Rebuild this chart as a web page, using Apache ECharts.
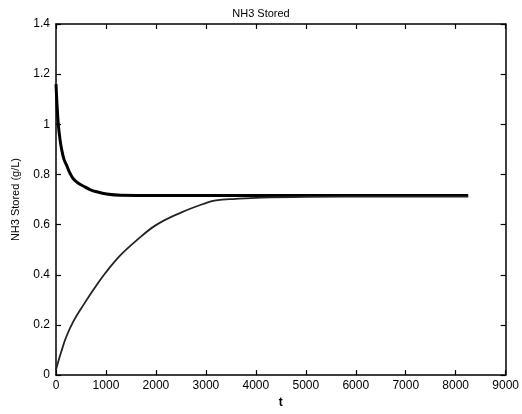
<!DOCTYPE html>
<html>
<head>
<meta charset="utf-8">
<script src="https://cdn.jsdelivr.net/npm/echarts@6/dist/echarts.min.js"></script>
<style>
  html, body { margin: 0; padding: 0; background: #fff; }
  #chart { width: 522px; height: 414px; }
</style>
</head>
<body>
<div id="chart"></div>
<script>
// 数据：估计值
const tDown = [0, 20, 46, 80, 113, 160, 213, 280, 346, 450, 546, 680, 812, 1012, 1300, 2000, 3000, 4000, 5000, 6000, 7000, 8250];
const yDown = [1.16, 1.08, 1.0, 0.94, 0.90, 0.86, 0.836, 0.805, 0.783, 0.765, 0.754, 0.74, 0.731, 0.722, 0.717, 0.716, 0.716, 0.716, 0.716, 0.716, 0.716, 0.716];
const tUp = [0, 40, 100, 200, 350, 550, 800, 1000, 1300, 1600, 2000, 2500, 3000, 3200, 3600, 4100, 5000, 6500, 8250];
const yUp = [0.02, 0.05, 0.09, 0.15, 0.215, 0.28, 0.355, 0.41, 0.48, 0.535, 0.598, 0.648, 0.686, 0.697, 0.703, 0.708, 0.711, 0.712, 0.712];
const xTicks = [0, 9000, 1000];
const yTicks = [0, 1.4, 0.2];

const chart = echarts.init(document.getElementById('chart'));
const font = 'Liberation Sans, Arial, sans-serif';
const axisBase = {
  type: 'value',
  axisLine: { show: true, onZero: false, lineStyle: { color: '#000', width: 1.5 } },
  axisTick: { show: true, inside: true, length: 5, lineStyle: { color: '#000', width: 1.2 } },
  splitLine: { show: false },
};
const option = {
  animation: false,
  backgroundColor: '#fff',
  title: {
    text: 'NH3 Stored',
    left: 'center',
    top: 3,
    textStyle: { fontFamily: font, fontSize: 11, fontWeight: 'normal', color: '#000' },
  },
  grid: { left: 56, right: 15, top: 24, bottom: 36 },
  xAxis: [
    Object.assign({}, axisBase, {
      min: xTicks[0], max: xTicks[1], interval: xTicks[2],
      position: 'bottom',
      name: 't', nameLocation: 'middle', nameGap: 21,
      nameTextStyle: { fontFamily: font, fontSize: 12, fontWeight: 'bold', color: '#000' },
      axisLabel: { color: '#000', fontFamily: font, fontSize: 12, margin: 5, formatter: v => String(v) },
    }),
    Object.assign({}, axisBase, {
      min: xTicks[0], max: xTicks[1], interval: xTicks[2],
      position: 'top',
      axisLabel: { show: false },
    }),
  ],
  yAxis: [
    Object.assign({}, axisBase, {
      min: yTicks[0], max: yTicks[1], interval: yTicks[2],
      position: 'left',
      name: 'NH3 Stored (g/L)', nameLocation: 'middle', nameGap: 35,
      nameTextStyle: { fontFamily: font, fontSize: 11, color: '#000' },
      axisLabel: {
        color: '#000', fontFamily: font, fontSize: 12, margin: 6,
        formatter: v => String(Math.round(v * 10) / 10),
      },
    }),
    Object.assign({}, axisBase, {
      min: yTicks[0], max: yTicks[1], interval: yTicks[2],
      position: 'right',
      axisLabel: { show: false },
    }),
  ],
  series: [
    {
      type: 'line',
      data: tDown.map((t, i) => [t, yDown[i]]),
      smooth: 0.4,
      showSymbol: false,
      lineStyle: { color: '#000', width: 3 },
    },
    {
      type: 'line',
      data: tUp.map((t, i) => [t, yUp[i]]),
      smooth: 0.4,
      showSymbol: false,
      lineStyle: { color: '#222', width: 1.8 },
    },
  ],
};
chart.setOption(option);
window.addEventListener('resize', () => {
  chart.resize();
});
</script>
</body>
</html>
